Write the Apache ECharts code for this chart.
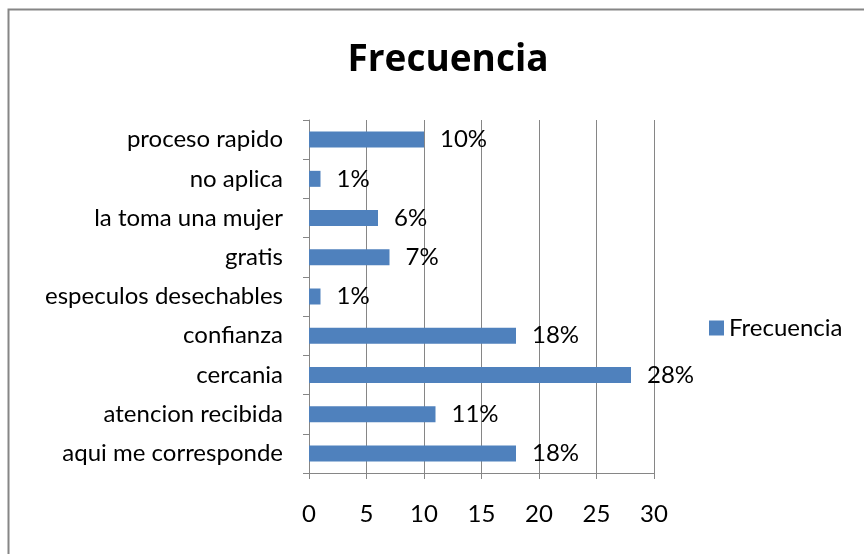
<!DOCTYPE html>
<html>
<head>
<meta charset="utf-8">
<script src="https://cdn.jsdelivr.net/npm/echarts@6/dist/echarts.min.js"></script>
<style>
html,body{margin:0;padding:0;background:#fff;}
#chart{width:864px;height:554px;}
</style>
</head>
<body>
<div id="chart"></div>
<script>
var categories = ['aqui me corresponde', 'atencion recibida', 'cercania', 'confianza',
  'especulos desechables', 'gratis', 'la toma una mujer', 'no aplica', 'proceso rapido'];
var frecuencia = [18, 11, 28, 18, 1, 7, 6, 1, 10];
var xTicks = [0, 5, 10, 15, 20, 25, 30];

var font = 'Lato, "Open Sans", sans-serif';
var myChart = echarts.init(document.getElementById('chart'));

var option = {
  backgroundColor: '#fff',
  animation: false,
  title: {
    text: 'Frecuencia',
    left: 443,
    top: 37,
    textAlign: 'center',
    textStyle: { fontFamily: '"Open Sans", sans-serif', fontSize: 37, fontWeight: 'bold', color: '#000' }
  },
  legend: {
    data: ['Frecuencia'],
    left: 704,
    top: 311,
    itemWidth: 15,
    itemHeight: 15,
    itemGap: 6,
    icon: 'rect',
    textStyle: { fontFamily: font, fontSize: 24, color: '#000' }
  },
  graphic: [{
    type: 'rect',
    shape: { x: 8.5, y: 9.5, width: 900, height: 600 },
    style: { fill: 'none', stroke: '#868686', lineWidth: 2 },
    silent: true
  }],
  grid: { left: 309, right: 210, top: 120, bottom: 81, containLabel: false },
  xAxis: {
    type: 'value',
    min: xTicks[0],
    max: xTicks[xTicks.length - 1],
    interval: 5,
    axisLine: { show: true, lineStyle: { color: '#868686', width: 1 } },
    axisTick: { show: true, length: 6, lineStyle: { color: '#868686' } },
    splitLine: { show: true, lineStyle: { color: '#868686', width: 1 } },
    axisLabel: { fontFamily: font, fontSize: 24, color: '#000', margin: 29 }
  },
  yAxis: {
    type: 'category',
    data: categories,
    axisLine: { show: true, lineStyle: { color: '#868686', width: 1 } },
    axisTick: { show: true, length: 6, alignWithLabel: false, lineStyle: { color: '#868686' } },
    axisLabel: { fontFamily: font, fontSize: 24, color: '#000', margin: 26 }
  },
  series: [{
    name: 'Frecuencia',
    type: 'bar',
    data: frecuencia,
    barWidth: 16,
    itemStyle: { color: '#4F81BD' },
    label: {
      show: true,
      position: 'right',
      distance: 16,
      formatter: '{c}%',
      fontFamily: font,
      fontSize: 24,
      color: '#000'
    }
  }]
};
myChart.setOption(option);
</script>
</body>
</html>
